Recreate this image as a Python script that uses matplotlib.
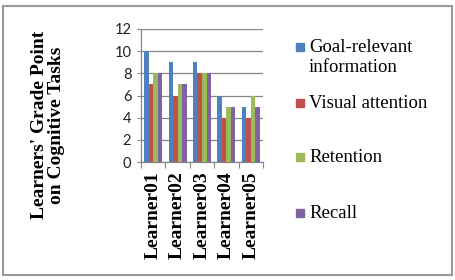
import numpy as np
import matplotlib
matplotlib.use('Agg')
import matplotlib.pyplot as plt
from matplotlib.patches import Rectangle

learners = ['Learner01', 'Learner02', 'Learner03', 'Learner04', 'Learner05']
series = ['Goal-relevant\ninformation', 'Visual attention', 'Retention', 'Recall']
goal = [10, 9, 9, 6, 5]
visual = [7, 6, 8, 4, 4]
retention = [8, 7, 8, 5, 6]
recall = [8, 7, 8, 5, 5]
colors = ['#4F81BD', '#C0504D', '#9BBB59', '#8064A2']
yticks = [0, 2, 4, 6, 8, 10, 12]

serif = 'Liberation Serif'
sans = 'Lato'

fig = plt.figure(figsize=(4.55, 2.8), dpi=100)
ax = fig.add_axes([141 / 455, 1 - 162 / 280, 122 / 455, 133 / 280])

x = np.arange(len(learners))
w = 0.185
for i, vals in enumerate([goal, visual, retention, recall]):
    ax.bar(x + (i - 1.5) * w, vals, width=w, color=colors[i], zorder=3)

ax.set_xlim(-0.5, len(learners) - 0.5)
ax.set_ylim(0, 12)
ax.set_yticks(yticks)
ax.set_yticklabels([str(v) for v in yticks], fontfamily=sans, fontsize=10.5, color='#222222')
ax.yaxis.grid(True, color='#868686', linewidth=0.9, zorder=0)
ax.tick_params(axis='y', length=3, color='#868686', pad=4)

# category ticks sit on the boundaries, labels in the middle
ax.set_xticks(np.arange(-0.5, len(learners)), minor=False)
ax.set_xticklabels([])
ax.set_xticks(x, minor=True)
ax.set_xticklabels(learners, minor=True, rotation=90, fontfamily=serif,
                   fontweight='bold', fontsize=14)
ax.tick_params(axis='x', which='major', length=4, color='#868686')
ax.tick_params(axis='x', which='minor', length=0, pad=7)

for s in ['top', 'right']:
    ax.spines[s].set_visible(False)
for s in ['left', 'bottom']:
    ax.spines[s].set_color('#868686')
    ax.spines[s].set_linewidth(0.9)

fig.text(48 / 455, 1 - 125 / 280, "Learners' Grade Point\non Cognitive Tasks",
         rotation=90, ha='center', va='center', fontfamily=serif,
         fontweight='bold', fontsize=14, linespacing=1.0)

# legend, placed like the original
leg_y = [47, 103, 157, 213]
for i, name in enumerate(series):
    yc = leg_y[i]
    fig.patches.append(Rectangle((296 / 455, 1 - (yc + 4) / 280), 8 / 455, 8 / 280,
                                 transform=fig.transFigure, color=colors[i]))
    fig.text(309 / 455, 1 - (yc - 8) / 280, name, ha='left', va='top',
             fontfamily=serif, fontsize=13.5, linespacing=1.2)

fig.patches.append(Rectangle((3 / 455, 1 - 275 / 280), 449 / 455, 269 / 280,
                             transform=fig.transFigure, fill=False,
                             edgecolor='#999999', linewidth=1.5))

fig.savefig('out.png', dpi=100)
